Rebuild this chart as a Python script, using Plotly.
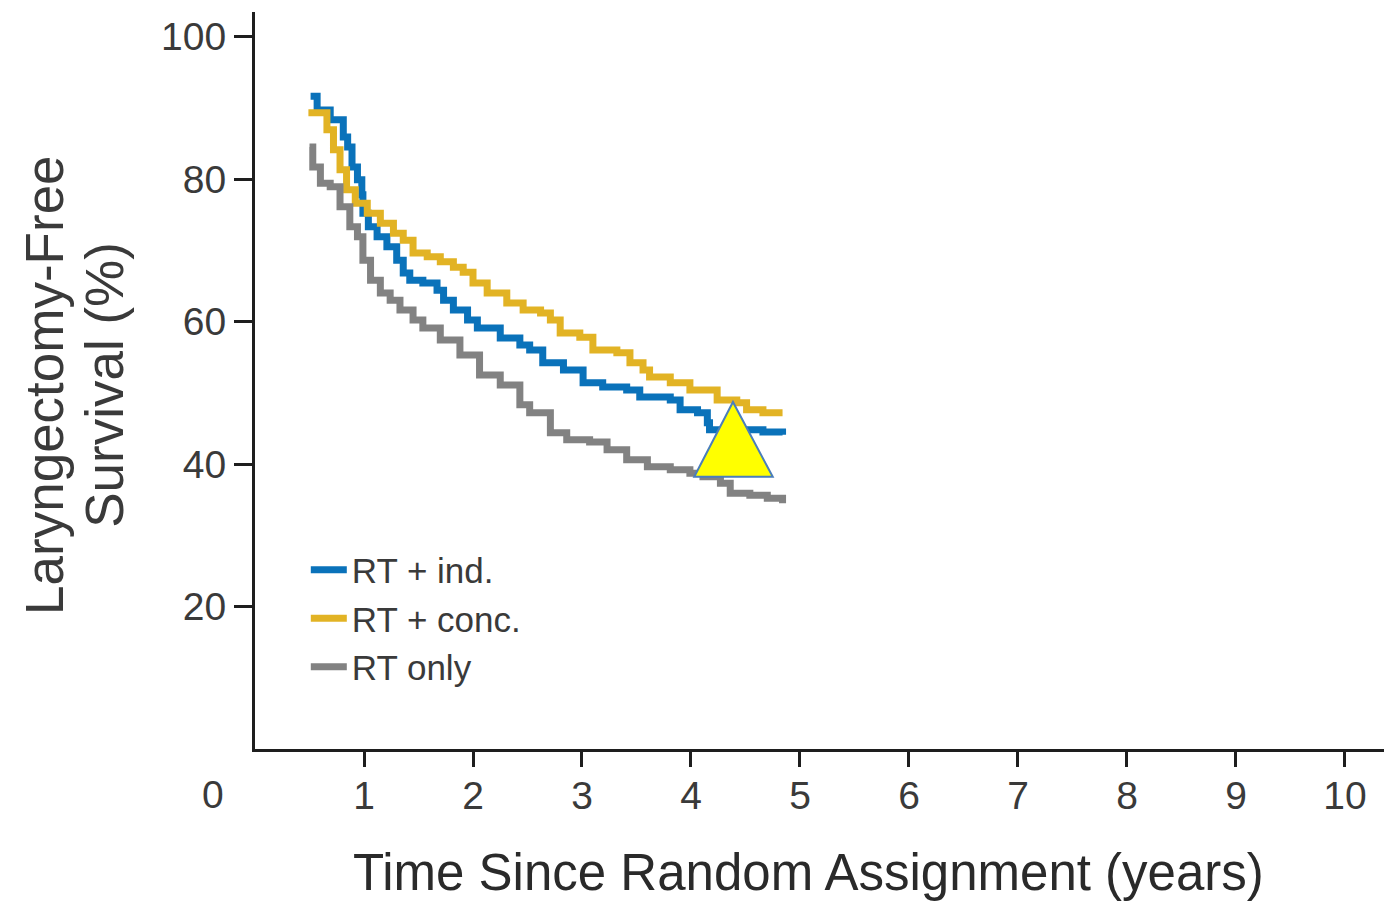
import plotly.graph_objects as go

# ---- data ----
ind_t = [0.51, 0.57, 0.69, 0.81, 0.85, 0.89, 0.94, 0.98, 0.99, 1.04, 1.12, 1.21, 1.30, 1.36, 1.42,
         1.54, 1.67, 1.73, 1.82, 1.95, 2.04, 2.25, 2.43, 2.52, 2.64, 2.83, 3.01, 3.19, 3.41, 3.53,
         3.81, 3.90, 4.06, 4.15, 4.17, 4.48, 4.66, 4.84]
ind_s = [91.6, 89.7, 88.3, 85.9, 84.5, 81.7, 79.9, 77.8, 75.2, 73.3, 71.9, 70.5, 68.6, 66.8, 65.8,
         65.4, 64.4, 63.0, 61.6, 60.2, 59.1, 57.7, 56.7, 56.0, 54.2, 53.2, 51.4, 50.8, 50.4, 49.4,
         49.0, 47.6, 47.2, 45.8, 44.8, 44.8, 44.5, 44.1]

conc_t = [0.49, 0.60, 0.66, 0.72, 0.78, 0.84, 0.92, 1.03, 1.15, 1.27, 1.36, 1.45, 1.58, 1.70, 1.82,
          1.91, 2.00, 2.13, 2.31, 2.46, 2.62, 2.71, 2.80, 2.98, 3.10, 3.32, 3.44, 3.56, 3.62, 3.81,
          3.99, 4.24, 4.42, 4.51, 4.66, 4.84]
conc_s = [89.3, 89.3, 86.9, 84.1, 81.3, 78.5, 76.6, 75.2, 73.8, 72.4, 71.4, 69.6, 69.1, 68.4, 67.6,
          66.9, 65.4, 64.0, 62.6, 61.6, 61.2, 60.2, 58.4, 57.8, 56.0, 55.6, 54.2, 53.2, 52.2, 51.4,
          50.4, 49.0, 48.6, 47.6, 47.2, 47.2]

rt_t = [0.50, 0.53, 0.60, 0.69, 0.78, 0.87, 0.94, 0.99, 1.06, 1.15, 1.24, 1.33, 1.45, 1.54, 1.70,
        1.88, 2.06, 2.25, 2.43, 2.52, 2.71, 2.86, 3.07, 3.23, 3.41, 3.60, 3.81, 3.99, 4.11, 4.27,
        4.36, 4.54, 4.70, 4.84]
rt_s = [84.5, 81.7, 79.4, 78.9, 76.1, 73.3, 71.9, 68.6, 65.8, 64.0, 63.0, 61.6, 60.2, 59.1, 57.4,
        55.3, 52.5, 51.1, 48.3, 47.2, 44.4, 43.4, 43.1, 42.0, 40.6, 39.6, 39.2, 38.7, 38.2, 37.3,
        35.9, 35.6, 35.2, 34.5]

series_names = ["RT + ind.", "RT + conc.", "RT only"]
series_colors = ["#0a72ba", "#e2b324", "#828282"]

x_ticks = [1, 2, 3, 4, 5, 6, 7, 8, 9, 10]
y_ticks = [20, 40, 60, 80, 100]

x_title = "Time Since Random Assignment (years)"
y_title_lines = ["Laryngectomy-Free", "Survival (%)"]

# triangle overlay (data coordinates)
tri_x = [4.03, 4.385, 4.75]
tri_y = [38.2, 48.7, 38.2]

TXT = "#3a3a3a"
FONT = "Liberation Sans, Arial, sans-serif"

fig = go.Figure()
for t, s, name, col in zip([ind_t, conc_t, rt_t], [ind_s, conc_s, rt_s], series_names, series_colors):
    fig.add_trace(go.Scatter(x=t, y=s, mode="lines", name=name,
                             line=dict(color=col, width=7, shape="hv")))

fig.add_shape(type="path",
              path=f"M {tri_x[0]},{tri_y[0]} L {tri_x[1]},{tri_y[1]} L {tri_x[2]},{tri_y[2]} Z",
              xref="x", yref="y", fillcolor="#ffff00",
              line=dict(color="#4a7ebb", width=2))

# origin label "0"
fig.add_annotation(text="0", x=-0.037, y=-0.062, xref="paper", yref="paper",
                   showarrow=False, font=dict(size=39, color=TXT, family=FONT),
                   xanchor="center", yanchor="middle")

# x-axis title
fig.add_annotation(text=x_title, x=0.49, y=-0.168, xref="paper", yref="paper",
                   showarrow=False, font=dict(size=51, color="#2a2a2a", family=FONT),
                   xanchor="center", yanchor="middle")

# y-axis title (two rotated lines)
for txt, xp in zip(y_title_lines, [-0.186, -0.133]):
    fig.add_annotation(text=txt, x=xp, y=0.494, xref="paper", yref="paper",
                       showarrow=False, textangle=-90,
                       font=dict(size=53, color=TXT, family=FONT),
                       xanchor="center", yanchor="middle")

fig.update_layout(
    width=1376, height=897,
    margin=dict(l=247, r=0, t=4, b=156),
    paper_bgcolor="white", plot_bgcolor="white",
    font=dict(family=FONT, color=TXT),
    showlegend=True,
    legend=dict(x=0.045, y=0.283, xanchor="left", yanchor="top",
                font=dict(size=35, color=TXT), bgcolor="rgba(0,0,0,0)",
                itemwidth=36, tracegroupgap=0),
    xaxis=dict(range=[0, 10.358], tickvals=x_ticks, ticktext=[str(v) for v in x_ticks],
               showgrid=False, zeroline=False, showline=True, linecolor="#1e1e1e", linewidth=3,
               ticks="outside", ticklen=15, tickwidth=3, tickcolor="#1e1e1e",
               ticklabelstandoff=-5,
               tickfont=dict(size=39, color=TXT)),
    yaxis=dict(range=[0, 103.44], tickvals=y_ticks, ticktext=[str(v) for v in y_ticks],
               showgrid=False, zeroline=False, showline=True, linecolor="#1e1e1e", linewidth=3,
               ticks="outside", ticklen=18, tickwidth=3, tickcolor="#1e1e1e",
               tickfont=dict(size=39, color=TXT)),
)

fig.write_html("out.html")
